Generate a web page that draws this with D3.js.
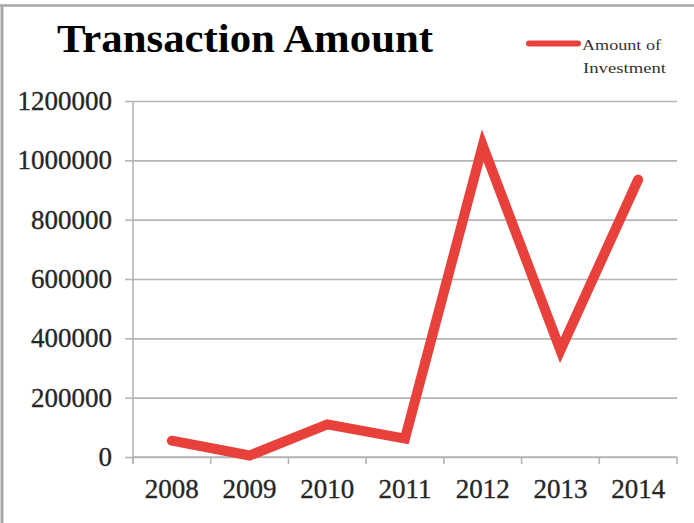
<!DOCTYPE html>
<html>
<head>
<meta charset="utf-8">
<script src="https://cdn.jsdelivr.net/npm/d3@7"></script>
<style>
  html, body { margin: 0; padding: 0; background: #fff; }
  svg { display: block; }
</style>
</head>
<body>
<svg id="chart" width="694" height="523"></svg>
<script>
const years = ["2008", "2009", "2010", "2011", "2012", "2013", "2014"];
const investment = [55000, 5000, 110000, 62000, 1050000, 360000, 935000];
const yTicks = [0, 200000, 400000, 600000, 800000, 1000000, 1200000];
const titleText = "Transaction Amount";
const legendLines = ["Amount of", "Investment"];

const svg = d3.select("#chart");
const W = 694, H = 523;
const margin = { left: 133, right: 17, top: 101, bottom: 65 };
const serif = "'Liberation Serif', 'DejaVu Serif', serif";
const red = "#e8403a";
const gridCol = "#b5b5b5";
const labelCol = "#262626";

// frame (top and left edges visible in reference)
svg.append("line").attr("x1", 2).attr("x2", 2).attr("y1", 5).attr("y2", H)
  .attr("stroke", "#a8a8a8").attr("stroke-width", 3);
svg.append("line").attr("x1", 0).attr("x2", W).attr("y1", 5.5).attr("y2", 5.5)
  .attr("stroke", "#a8a8a8").attr("stroke-width", 2.5);

const x = d3.scaleBand().domain(years)
  .range([margin.left, W - margin.right]).padding(0);
const y = d3.scaleLinear().domain([0, 1200000])
  .range([H - margin.bottom - 1, margin.top]);

// gridlines with left tick extension
const yAxis = d3.axisLeft(y).tickValues(yTicks).tickFormat(d3.format("d"))
  .tickSize(-(W - margin.right - margin.left)).tickPadding(13);
const gy = svg.append("g").attr("transform", `translate(${margin.left},0)`).call(yAxis);
gy.select(".domain").remove();
gy.selectAll(".tick line").attr("stroke", gridCol).attr("stroke-width", 1.6);
gy.selectAll(".tick").append("line")
  .attr("x1", -8).attr("x2", 0).attr("stroke", gridCol).attr("stroke-width", 1.6);
gy.selectAll(".tick text")
  .attr("x", -21)
  .style("font-family", serif).style("font-size", "27px")
  .attr("fill", labelCol).attr("stroke", labelCol).attr("stroke-width", 0.35);

// y axis line
svg.append("line")
  .attr("x1", margin.left).attr("x2", margin.left)
  .attr("y1", y(1200000)).attr("y2", y(0) + 7)
  .attr("stroke", gridCol).attr("stroke-width", 1.6);

// x axis: ticks at band boundaries
const boundaries = years.map(d => x(d)).concat([x(years[years.length - 1]) + x.bandwidth()]);
const gx = svg.append("g");
gx.append("line")
  .attr("x1", margin.left).attr("x2", W - margin.right)
  .attr("y1", y(0)).attr("y2", y(0))
  .attr("stroke", gridCol).attr("stroke-width", 1.6);
gx.selectAll("line.tk").data(boundaries).join("line").attr("class", "tk")
  .attr("x1", d => d).attr("x2", d => d)
  .attr("y1", y(0)).attr("y2", y(0) + 7)
  .attr("stroke", gridCol).attr("stroke-width", 1.6);
gx.selectAll("text").data(years).join("text")
  .attr("x", d => x(d) + x.bandwidth() / 2)
  .attr("y", y(0) + 41)
  .attr("text-anchor", "middle")
  .style("font-family", serif).style("font-size", "27px")
  .attr("fill", labelCol).attr("stroke", labelCol).attr("stroke-width", 0.35)
  .text(d => d);

// line series
const line = d3.line()
  .x((d, i) => x(years[i]) + x.bandwidth() / 2)
  .y(d => y(d));
svg.append("path").datum(investment)
  .attr("d", line)
  .attr("fill", "none").attr("stroke", red)
  .attr("stroke-width", 10).attr("stroke-linejoin", "miter").attr("stroke-linecap", "round");

// title
svg.append("text").attr("x", 57).attr("y", 52)
  .style("font-family", serif).style("font-weight", "bold").style("font-size", "40px")
  .attr("fill", "#000").attr("textLength", 376).attr("lengthAdjust", "spacingAndGlyphs")
  .text(titleText);

// legend
svg.append("line").attr("x1", 529).attr("x2", 578).attr("y1", 43.5).attr("y2", 43.5)
  .attr("stroke", red).attr("stroke-width", 6).attr("stroke-linecap", "round");
svg.append("text").attr("x", 582).attr("y", 50)
  .style("font-family", serif).style("font-size", "15px").attr("fill", "#333")
  .attr("textLength", 79).attr("lengthAdjust", "spacingAndGlyphs")
  .text(legendLines[0]);
svg.append("text").attr("x", 583).attr("y", 73)
  .style("font-family", serif).style("font-size", "15px").attr("fill", "#333")
  .attr("textLength", 83).attr("lengthAdjust", "spacingAndGlyphs")
  .text(legendLines[1]);
</script>
</body>
</html>
